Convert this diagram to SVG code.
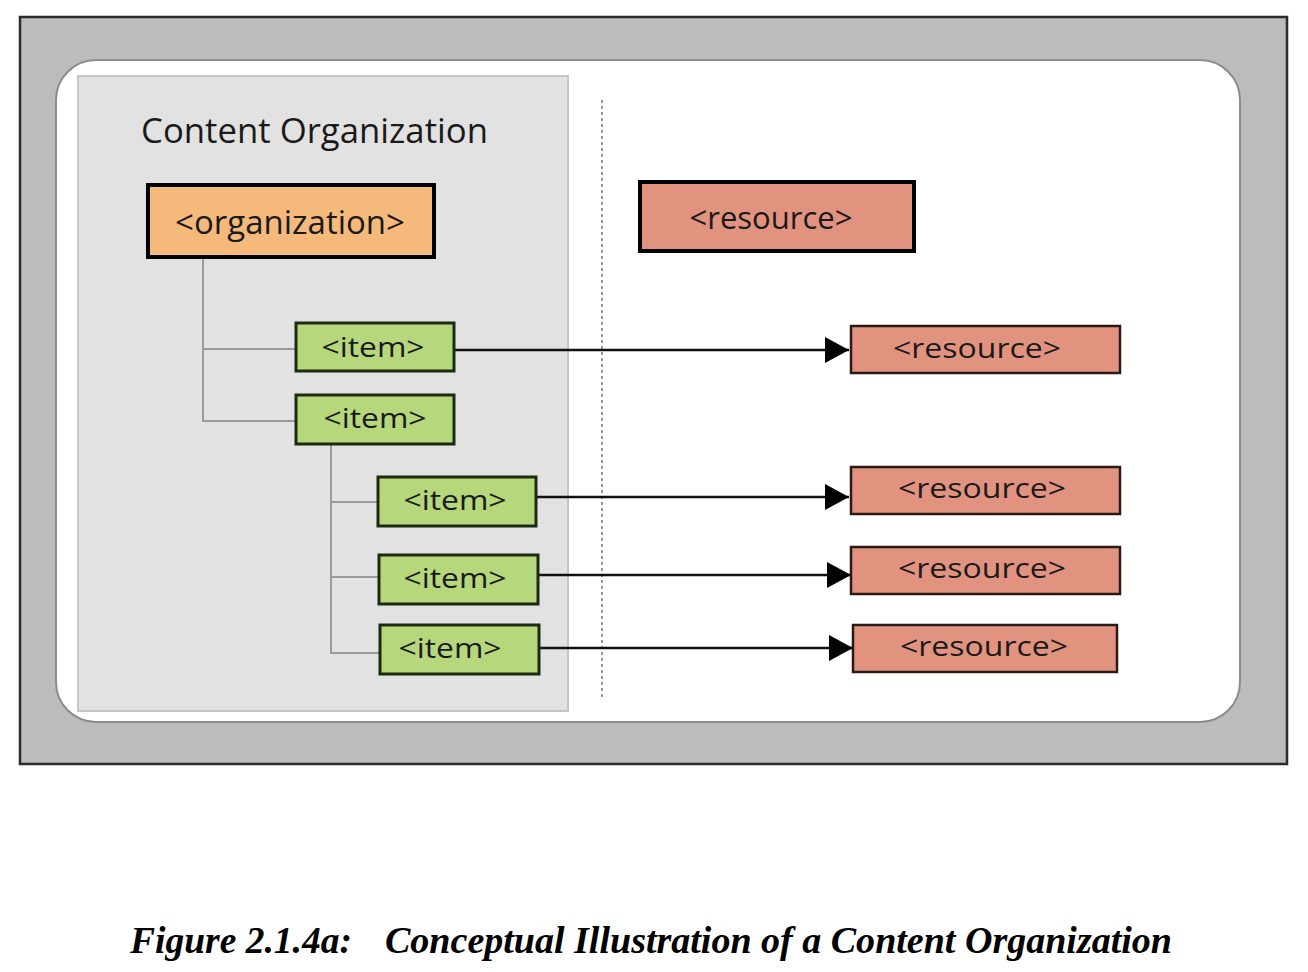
<svg xmlns="http://www.w3.org/2000/svg" width="1308" height="972" viewBox="0 0 1308 972">
<defs>
<style>
.lbl{font-family:"Open Sans","Noto Sans",sans-serif;fill:#1a1a1a;text-anchor:middle}
.tree{stroke:#9a9a9a;stroke-width:2;fill:none}
.arr{stroke:#111;stroke-width:2.5;fill:none}
.item{fill:#b6d77c;stroke:#1d2a12;stroke-width:3}
.res{fill:#e2937f;stroke:#2a1a16;stroke-width:2.5}
.cap{font-family:"Liberation Serif","Times New Roman",serif;font-weight:bold;font-style:italic;font-size:38px;fill:#000}
</style>
<marker id="ah" viewBox="0 0 24 26" refX="24" refY="13" markerWidth="24" markerHeight="26" markerUnits="userSpaceOnUse" orient="auto">
<path d="M0,0 L24,13 L0,26 Z" fill="#000"/>
</marker>
</defs>
<rect width="1308" height="972" fill="#fff"/>
<g id="frame">
<rect x="20" y="17" width="1267" height="747" fill="#bcbcbc" stroke="#2b2b2b" stroke-width="2.5"/>
<rect x="56" y="60" width="1184" height="662" rx="40" ry="40" fill="#fff" stroke="#8c8c8c" stroke-width="2"/>
<rect x="78" y="76" width="490" height="635" fill="#e2e2e2" stroke="#c6c6c6" stroke-width="2"/>
<line x1="602" y1="100" x2="602" y2="697" stroke="#777" stroke-width="1.5" stroke-dasharray="3,3"/>
<text x="141" y="143" font-family="'Open Sans','Noto Sans',sans-serif" font-size="35" fill="#1a1a1a" textLength="347" lengthAdjust="spacingAndGlyphs">Content Organization</text>
</g>
<g id="connectors">
<polyline class="tree" points="203,258 203,421 296,421"/>
<line class="tree" x1="203" y1="349" x2="296" y2="349"/>
<polyline class="tree" points="331,444 331,653 380,653"/>
<line class="tree" x1="331" y1="502" x2="378" y2="502"/>
<line class="tree" x1="331" y1="577" x2="379" y2="577"/>
<line class="arr" x1="454" y1="350" x2="849" y2="350" marker-end="url(#ah)"/>
<line class="arr" x1="536" y1="497" x2="849" y2="497" marker-end="url(#ah)"/>
<line class="arr" x1="538" y1="575" x2="851" y2="575" marker-end="url(#ah)"/>
<line class="arr" x1="539" y1="648" x2="853" y2="648" marker-end="url(#ah)"/>
</g>
<g id="organization">
<rect x="148" y="185" width="286" height="72" fill="#f6b97c" stroke="#000" stroke-width="4"/>
<text class="lbl" x="290" y="234" font-size="33" textLength="230" lengthAdjust="spacingAndGlyphs">&lt;organization&gt;</text>
</g>
<g id="resource-main">
<rect x="640" y="182" width="274" height="69" fill="#e2937f" stroke="#000" stroke-width="4"/>
<text class="lbl" x="771" y="229" font-size="31" textLength="163" lengthAdjust="spacingAndGlyphs">&lt;resource&gt;</text>
</g>
<g id="item1">
<rect class="item" x="296" y="323" width="158" height="48"/>
<text class="lbl" x="373" y="357" font-size="27" textLength="103" lengthAdjust="spacingAndGlyphs">&lt;item&gt;</text>
</g>
<g id="item2">
<rect class="item" x="296" y="395" width="158" height="49"/>
<text class="lbl" x="375" y="428" font-size="27" textLength="103" lengthAdjust="spacingAndGlyphs">&lt;item&gt;</text>
</g>
<g id="item3">
<rect class="item" x="378" y="477" width="158" height="49"/>
<text class="lbl" x="455" y="510" font-size="27" textLength="103" lengthAdjust="spacingAndGlyphs">&lt;item&gt;</text>
</g>
<g id="item4">
<rect class="item" x="379" y="555" width="159" height="49"/>
<text class="lbl" x="455" y="588" font-size="27" textLength="103" lengthAdjust="spacingAndGlyphs">&lt;item&gt;</text>
</g>
<g id="item5">
<rect class="item" x="380" y="625" width="159" height="49"/>
<text class="lbl" x="450" y="658" font-size="27" textLength="103" lengthAdjust="spacingAndGlyphs">&lt;item&gt;</text>
</g>
<g id="resource1">
<rect class="res" x="851" y="326" width="269" height="47"/>
<text class="lbl" x="977" y="358" font-size="28" textLength="168" lengthAdjust="spacingAndGlyphs">&lt;resource&gt;</text>
</g>
<g id="resource2">
<rect class="res" x="851" y="467" width="269" height="47"/>
<text class="lbl" x="982" y="498" font-size="28" textLength="168" lengthAdjust="spacingAndGlyphs">&lt;resource&gt;</text>
</g>
<g id="resource3">
<rect class="res" x="851" y="547" width="269" height="47"/>
<text class="lbl" x="982" y="578" font-size="28" textLength="168" lengthAdjust="spacingAndGlyphs">&lt;resource&gt;</text>
</g>
<g id="resource4">
<rect class="res" x="853" y="625" width="264" height="47"/>
<text class="lbl" x="984" y="656" font-size="28" textLength="168" lengthAdjust="spacingAndGlyphs">&lt;resource&gt;</text>
</g>
<g id="caption">
<text class="cap" x="130" y="953" textLength="222" lengthAdjust="spacingAndGlyphs">Figure 2.1.4a:</text>
<text class="cap" x="385" y="953" textLength="787" lengthAdjust="spacingAndGlyphs">Conceptual Illustration of a Content Organization</text>
</g>
</svg>
